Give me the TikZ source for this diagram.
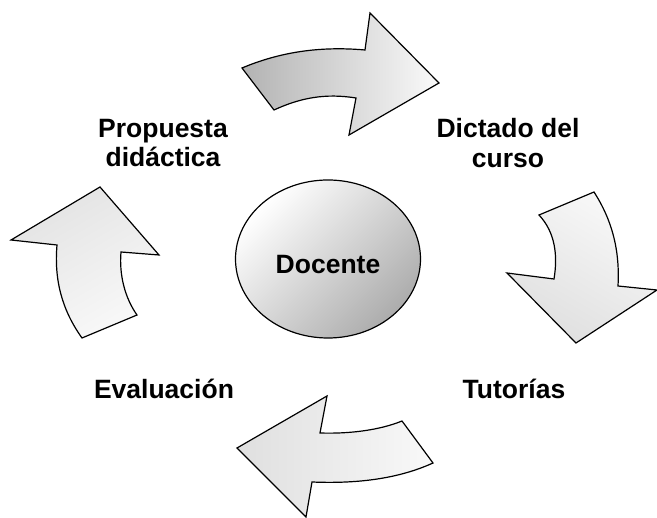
\documentclass[tikz,border=0pt]{standalone}
\usepackage{fontspec}
\setmainfont{Liberation Sans}
\usetikzlibrary{shapes.geometric}
\begin{document}
\begin{tikzpicture}[x=1pt,y=-1pt,
  arrowshape/.style={draw=black,line width=1.2pt,line join=miter},
  lbl/.style={font=\fontsize{26.5}{29.5}\selectfont\bfseries,align=center,inner sep=0pt}]
\useasboundingbox (0,0) rectangle (657,518);
% top arrow
\path[arrowshape,left color=gray!60,right color=gray!4]
  (242,68) .. controls (280,52) and (320,46) .. (365,50)
  -- (370,13) -- (439,83) -- (349,135) -- (356,98)
  .. controls (325,93) and (300,98) .. (274,110) -- cycle;
% right arrow
\path[arrowshape,top color=gray!5,bottom color=gray!25,shading angle=-30]
  (539,215) -- (594,192)
  .. controls (612,220) and (620,250) .. (618,286)
  -- (657,290) -- (576,343) -- (507,273) -- (554,279)
  .. controls (558,255) and (555,232) .. (539,215) -- cycle;
% bottom arrow
\path[arrowshape,left color=gray!25,right color=gray!5]
  (402,421) -- (433,463)
  .. controls (400,478) and (360,484) .. (312,482)
  -- (306,517) -- (237,448) -- (327,396) -- (320,433)
  .. controls (350,434) and (380,430) .. (402,421) -- cycle;
% left arrow
\path[arrowshape,top color=gray!22,bottom color=gray!5,shading angle=30]
  (82,338) -- (137,315)
  .. controls (125,298) and (119,275) .. (121,252)
  -- (159,255) -- (100,187) -- (11,240) -- (57,245)
  .. controls (54,280) and (62,310) .. (82,338) -- cycle;
% center ellipse
\node[ellipse,draw=black,line width=1.2pt,minimum width=185pt,minimum height=158pt,
  top color=white,bottom color=gray!65,shading angle=45,inner sep=0pt] (docente) at (328,259) {};
\node[lbl] (doc) at (328,265) {Docente};
\node[lbl] (prop) at (163,143) {Propuesta\\did\'actica};
\node[lbl] (dict) at (508,143) {Dictado del\\curso};
\node[lbl] (tut) at (514,389) {Tutor\'ias};
\node[lbl] (eval) at (164,389) {Evaluaci\'on};
\end{tikzpicture}
\end{document}
